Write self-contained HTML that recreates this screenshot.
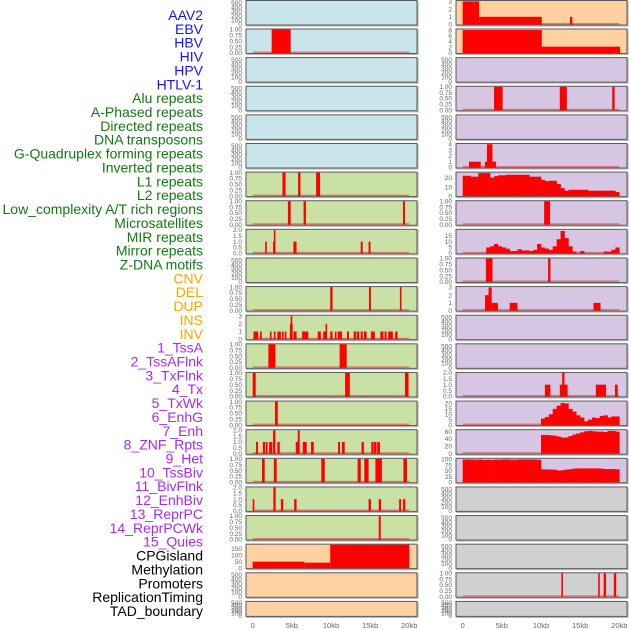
<!DOCTYPE html>
<html><head><meta charset="utf-8"><style>
html,body{margin:0;padding:0;background:#fff;}
svg{display:block;font-family:"Liberation Sans",sans-serif;}
</style></head><body>
<svg id="chart" width="630" height="630" viewBox="0 0 630 630" xmlns="http://www.w3.org/2000/svg">
<g id="labels"></g>
<g id="panels"></g>
<g id="xaxis"></g>
</svg>
<script>
const NS="http://www.w3.org/2000/svg";
const trackLabels=["AAV2","EBV","HBV","HIV","HPV","HTLV-1","Alu repeats","A-Phased repeats","Directed repeats","DNA transposons","G-Quadruplex forming repeats","Inverted repeats","L1 repeats","L2 repeats","Low_complexity A/T rich regions","Microsatellites","MIR repeats","Mirror repeats","Z-DNA motifs","CNV","DEL","DUP","INS","INV","1_TssA","2_TssAFlnk","3_TxFlnk","4_Tx","5_TxWk","6_EnhG","7_Enh","8_ZNF_Rpts","9_Het","10_TssBiv","11_BivFlnk","12_EnhBiv","13_ReprPC","14_ReprPCWk","15_Quies","CPGisland","Methylation","Promoters","ReplicationTiming","TAD_boundary"];
const labelGroups=[6,13,5,15,5];
const xTickValues=[0,5,10,15,20];
const xTickLabels=["0","5kb","10kb","15kb","20kb"];
// left column segments [startKb,endKb,value]
const segEBV=[[2.42,4.85,1]];
const segL1=[[3.8,4.2,1],[5.8,6.1,1],[8.1,8.6,1]];
const segL2=[[4.5,4.85,1],[6.5,6.8,1],[19.2,19.45,1]];
const segLowCx=[[1.6,1.8,1],[2.6,2.9,1],[2.7,2.9,2],[5.2,5.6,1],[13.8,14.05,1],[14.8,15.05,1]];
const segMIR=[[9.9,10.2,1],[14.85,15.1,1],[18.8,19.0,1]];
const segMirror=[[0.1,0.7,1],[0.93,1.15,1],[2.2,2.4,1],[2.7,2.9,1],[3.15,3.6,1],[3.75,3.95,1],[4.1,4.3,1],[4.75,5.1,2],[4.85,5.0,3],[5.2,5.6,1],[6.3,7.1,1],[8.3,8.7,1],[9.0,9.5,1],[9.3,9.5,2],[9.9,10.2,1],[10.5,10.7,1],[10.85,11.4,1],[12.05,12.3,1],[12.9,13.2,1],[13.3,13.6,1],[13.8,14.05,1],[14.2,14.55,1],[15.1,15.6,1],[16.3,16.7,1],[16.85,17.1,1],[17.3,17.9,1],[18.2,18.5,1]];
const segL12=[[2.0,2.9,1],[11.1,12.0,1]];
const segL13=[[0,0.38,1],[11.8,12.4,1],[19.45,19.9,1]];
const segL14=[[2.85,3.2,1]];
const segL15=[[0.43,0.68,1],[1.3,1.57,1],[1.66,1.9,1],[2.1,2.5,1],[2.6,2.9,2],[3.15,3.45,1],[5.5,5.8,1],[5.75,6.0,2],[6.4,6.9,1],[7.45,7.8,1],[10.9,11.15,1],[11.4,11.75,1],[13.9,14.2,1],[15.15,15.4,1],[15.45,15.8,1],[15.9,16.25,1]];
const segL16=[[1.19,1.53,1],[2.7,3.06,1],[8.76,9.2,1],[13.4,13.8,1],[14.25,14.8,1],[15.67,16.5,1],[19.25,19.7,1]];
const segL17=[[0,0.2,1],[2.64,2.93,2],[3.6,3.9,1],[5.3,5.6,1],[14.8,15.1,1],[16.1,16.4,1],[18.7,18.95,1],[19.2,19.5,1]];
const segL18=[[16.1,16.35,1]];
const segL19=[[0,6.6,50],[6.6,9.9,42],[9.9,20,180]];
// right column
const segR0=[[0,2.1,3],[2.1,10.1,1],[13.7,14.0,1]];
const segR1=[[0,10.1,8],[10.1,20.1,2.2]];
const segR3=[[4.0,5.1,1],[12.4,13.3,1],[19.1,19.4,1]];
const segR5=[[0.8,2.3,1],[2.85,4.25,1],[3.1,3.8,4]];
const binsR6=[22.5,22.5,21.5,21.5,25.5,25.5,25.5,20.5,22,23,23,23.6,23.6,23.6,23.6,23.6,23.6,21.5,21.5,21.5,18,16.5,17,17,13.5,8.7,6,7,7,7,7,7,6,6,6,6,6,6,6,4.5];
const segR7=[[10.4,11.15,1]];
const binsR8=[0,0,0,0,0,0,5,6,8,6,5,4,2,2,3.5,2.5,2.5,2,3,8,5,4,3,6,12,19,13,6,1.5,0,2,0,0,0,0,0,1.5,1.5,3,5];
const segR9=[[2.96,3.8,1],[10.9,11.2,1]];
const segR10=[[2.85,3.4,2],[3.3,3.7,3],[3.7,4.5,1],[6.0,7.0,1],[16.7,17.6,1]];
const segR13=[[10.5,11.2,1],[12.4,13.4,1],[12.7,13.0,2],[17.0,18.3,1],[19.45,19.8,1]];
const binsR14=[6,7.5,10,15,18,20.5,20,15,12.5,9,7,3.5,5,7,6.5,8.5,9,7,8,8];
const binsR15=[51,51,50,49,47,44,44,48,52,55,58,61,62,61,60,60,59,62,62,60];
const binsR16=[100,100,99,99,100,98,99,98,99,99,100,100,99,99,100,100,100,100,100,99,57,56,56,55,52,53,56,57,60,61,61,61,61,61,61,60,58,58,58,57];
const segR20=[[12.6,12.75,1],[17.3,17.5,1],[18.0,18.3,1],[19.3,19.6,1]];

const C={b:"#c9e4ea",g:"#c9e1a5",o:"#ffd0a0",p:"#d6c6e3",y:"#d0d0d0"};
const T1={max:1,ticks:[0,0.25,0.5,0.75,1],d:2};
const T2={max:2,ticks:[0,0.5,1,1.5,2],d:1};
const T3={max:3.05,ticks:[0,1,2,3],d:0};
const T4={max:4.05,ticks:[0,1,2,3,4],d:0};
const TE={max:540,ticks:[0,100,200,300,400,500],d:0};
const E=null;
const leftPanels=[
[C.b,TE,E],[C.b,T1,{s:segEBV}],[C.b,TE,E],[C.b,TE,E],[C.b,TE,E],[C.b,TE,E],
[C.g,T1,{s:segL1}],[C.g,T1,{s:segL2}],[C.g,T2,{s:segLowCx}],[C.g,TE,E],[C.g,T1,{s:segMIR}],[C.g,T3,{s:segMirror}],
[C.g,T1,{s:segL12}],[C.g,T1,{s:segL13}],[C.g,T1,{s:segL14}],[C.g,T2,{s:segL15}],[C.g,T1,{s:segL16}],[C.g,T2,{s:segL17}],[C.g,T1,{s:segL18}],
[C.o,{max:180,ticks:[0,50,100,150],d:0},{s:segL19,nobase:true}],[C.o,TE,E],[C.o,TE,E]];
const rightPanels=[
[C.o,T3,{s:segR0}],[C.o,{max:8.2,ticks:[0,2,4,6,8],d:0},{s:segR1}],[C.p,TE,E],[C.p,T1,{s:segR3}],[C.p,TE,E],[C.p,T4,{s:segR5}],
[C.p,{max:26,ticks:[0,10,20],d:0},{b:binsR6,o:0}],[C.p,T1,{s:segR7}],[C.p,{max:20,ticks:[0,5,10,15],d:0},{b:binsR8,o:0}],
[C.p,T1,{s:segR9}],[C.p,T3,{s:segR10}],[C.p,TE,E],[C.p,TE,E],[C.p,T2,{s:segR13}],
[C.p,{max:21.8,ticks:[0,5,10,15,20],d:0},{b:binsR14,o:10}],[C.p,{max:64,ticks:[0,20,40,60],d:0},{b:binsR15,o:10}],
[C.p,{max:103,ticks:[0,25,50,75,100],d:0},{b:binsR16,o:0}],
[C.y,TE,E],[C.y,TE,E],[C.y,TE,E],[C.y,T1,{s:segR20}],[C.y,TE,E]];

function mk(tag,attrs,parent){const e=document.createElementNS(NS,tag);for(const k in attrs)e.setAttribute(k,attrs[k]);parent.appendChild(e);return e;}

const lg=document.getElementById("labels");
const groupColors=["#1414ff","#127a12","#ffa500","#a52cf0","#000000"];
let gi=0,cnt=0;
trackLabels.forEach((t,i)=>{
  while(cnt>=labelGroups[gi]){cnt=0;gi++;}
  cnt++;
  const el=mk("text",{x:203,y:15+i*13.86+5,"text-anchor":"end","font-size":"14",fill:groupColors[gi]},lg);
  el.textContent=t;
  
  
});

const pg=document.getElementById("panels");
function rowTop(i){return i===0?0.5:29+(i-1)*28.62;}
function drawColumn(panels,px,x0,side){
  const xs=kb=>x0+kb*7.83;
  panels.forEach((p,i)=>{
    const [bg,ax,data]=p;
    const top=rowTop(i), h=(i===21)?15:24.5, bot=top+h;
    const g=mk("g",{},pg);
    
    
    mk("rect",{x:px+1,y:top+1,width:171,height:h,fill:"none",stroke:"#b8b8b8","stroke-width":1.2},g);
    const r=mk("rect",{x:px,y:top,width:171,height:h,fill:bg,stroke:"#5a5a5a","stroke-width":1},g);
    
    
    const ptop=top+0.5,pbot=bot-0.5;
    const ys=v=>pbot-(v/ax.max)*(pbot-ptop);
    ax.ticks.forEach(v=>{
      const t=mk("text",{x:px-4,y:ys(v)+2.2,"text-anchor":"end","font-size":"6.5",fill:"#666"},g);
      t.textContent=v.toFixed(ax.d);
      
      
    });
    if(!data)return;
    if(!data.nobase){
      const bl=mk("rect",{x:xs(0),y:pbot-1.5,width:xs(20)-xs(0),height:1.5,fill:"#e05050",opacity:0.7},g);
      
      
    }
    const bars=[];
    if(data.s)data.s.forEach(s=>bars.push(s));
    if(data.b)data.b.forEach((v,k)=>{if(v>0)bars.push([data.o+k*0.5,data.o+(k+1)*0.5,v]);});
    bars.forEach(b=>{
      const x1=xs(b[0]),x2=xs(b[1]);const y=Math.max(ptop,ys(b[2]));
      const w=Math.max(1.6,x2-x1+(data.b?0.3:0));
      const br=mk("rect",{x:x1,y:y,width:w,height:pbot-y,fill:"#ff0000"},g);
      
      
    });
  });
}
drawColumn(leftPanels,246,252.7,'left');
drawColumn(rightPanels,456,462.7,'right');

const xg=document.getElementById("xaxis");
[252.7,462.7].forEach(x0=>{
  xTickValues.forEach((v,k)=>{
    const t=mk("text",{x:x0+v*7.83,y:628,"text-anchor":"middle","font-size":"7.5",fill:"#666"},xg);
    t.textContent=xTickLabels[k];
    
    
  });
});
</script>
</body></html>
